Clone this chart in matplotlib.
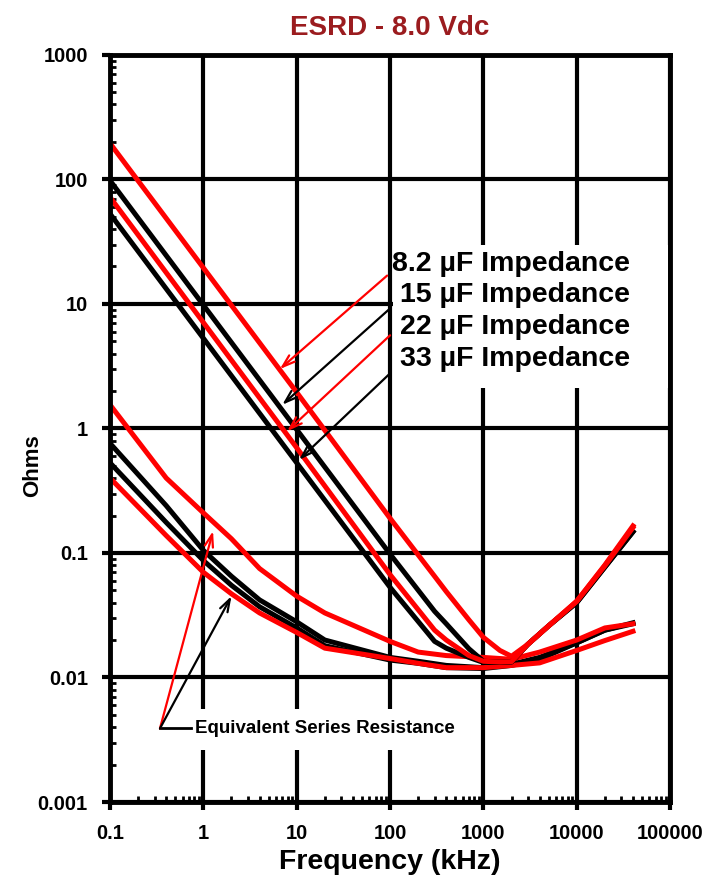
import numpy as np
import matplotlib
matplotlib.use("Agg")
import matplotlib.pyplot as plt
from matplotlib.patches import Rectangle
from matplotlib.ticker import FixedLocator, LogLocator, NullFormatter

plt.rcParams['font.family'] = ['Liberation Sans', 'DejaVu Sans']

# impedance curves (kHz, ohms)
f_imp = [0.1, 1, 10, 100, 300, 400, 700, 1000, 1500, 2000, 3000, 5000, 10000, 20000, 40000]
z_82 = [195, 19.5, 1.95, 0.19, 0.065, 0.049, 0.029, 0.021, 0.0165, 0.0148, 0.0185, 0.026, 0.041, 0.08, 0.165]
z_15 = [98, 9.8, 0.98, 0.098, 0.034, 0.027, 0.017, 0.0135, 0.0133, 0.0134, 0.0185, 0.026, 0.040, 0.077, 0.148]
z_22 = [72, 7.1, 0.70, 0.067, 0.024, 0.020, 0.0150, 0.0135, 0.0133, 0.0134, 0.0185, 0.026, 0.041, 0.079, 0.16]
z_33 = [53, 5.3, 0.53, 0.053, 0.0195, 0.0172, 0.0145, 0.0132, 0.0132, 0.0133, 0.0185, 0.026, 0.040, 0.077, 0.148]

# equivalent series resistance curves
f_esr = [0.1, 0.4, 1, 2, 4, 10, 20, 100, 200, 400, 1000, 2000, 4000, 10000, 20000, 40000]
esr_82 = [1.55, 0.40, 0.21, 0.13, 0.075, 0.045, 0.033, 0.0195, 0.016, 0.015, 0.0145, 0.014, 0.016, 0.020, 0.025, 0.027]
esr_15 = [0.76, 0.24, 0.105, 0.065, 0.042, 0.028, 0.020, 0.0145, 0.0135, 0.0125, 0.012, 0.0128, 0.0145, 0.019, 0.024, 0.0275]
esr_22 = [0.40, 0.138, 0.07, 0.047, 0.033, 0.023, 0.0172, 0.0142, 0.013, 0.012, 0.012, 0.0125, 0.0131, 0.0165, 0.0198, 0.0235]
esr_33 = [0.53, 0.176, 0.087, 0.055, 0.037, 0.025, 0.018, 0.0138, 0.013, 0.012, 0.0118, 0.0125, 0.014, 0.019, 0.024, 0.027]

labels = ['8.2 µF Impedance', '15 µF Impedance', '22 µF Impedance', '33 µF Impedance']

RED = '#FF0000'
BLK = '#000000'

fig = plt.figure(figsize=(7.19, 8.86), dpi=100)
ax = fig.add_axes([0.153, 0.0948, 0.779, 0.8432])
ax.set_xscale('log')
ax.set_yscale('log')
ax.set_xlim(0.1, 100000)
ax.set_ylim(0.001, 1000)

ax.grid(True, which='major', color='black', linewidth=3)
ax.set_axisbelow(True)

lw = 3.6
ax.plot(f_esr, esr_15, color=BLK, lw=lw, zorder=3)
ax.plot(f_esr, esr_33, color=BLK, lw=lw, zorder=3)
ax.plot(f_esr, esr_82, color=RED, lw=lw, zorder=3)
ax.plot(f_esr, esr_22, color=RED, lw=lw, zorder=3)
ax.plot(f_imp, z_15, color=BLK, lw=lw, zorder=3)
ax.plot(f_imp, z_33, color=BLK, lw=lw, zorder=3)
ax.plot(f_imp, z_82, color=RED, lw=lw, zorder=3)
ax.plot(f_imp, z_22, color=RED, lw=lw, zorder=3)

# white boxes behind the annotation text
ax.add_patch(Rectangle((0.506, 0.554), 0.49, 0.192, transform=ax.transAxes,
                       facecolor='white', edgecolor='none', zorder=2))
ax.add_patch(Rectangle((0.134, 0.069), 0.50, 0.055, transform=ax.transAxes,
                       facecolor='white', edgecolor='none', zorder=2))

for spine in ax.spines.values():
    spine.set_linewidth(3.5)
    spine.set_zorder(4)

ax.xaxis.set_major_locator(FixedLocator([0.1, 1, 10, 100, 1000, 10000, 100000]))
ax.yaxis.set_major_locator(FixedLocator([0.001, 0.01, 0.1, 1, 10, 100, 1000]))
ax.set_xticklabels(['0.1', '1', '10', '100', '1000', '10000', '100000'])
ax.set_yticklabels(['0.001', '0.01', '0.1', '1', '10', '100', '1000'])
ax.xaxis.set_minor_locator(LogLocator(base=10, subs=np.arange(2, 10)))
ax.yaxis.set_minor_locator(LogLocator(base=10, subs=np.arange(2, 10)))
ax.xaxis.set_minor_formatter(NullFormatter())
ax.yaxis.set_minor_formatter(NullFormatter())
ax.tick_params(which='major', direction='out', length=6, width=3, pad=10,
               labelsize=14.5)
ax.tick_params(which='minor', direction='in', length=4, width=2)
for t in ax.get_xticklabels() + ax.get_yticklabels():
    t.set_fontweight('bold')

ax.set_xlabel('Frequency (kHz)', fontsize=20.5, fontweight='bold', labelpad=4)
ax.set_ylabel('Ohms', fontsize=16, fontweight='bold')
ax.yaxis.set_label_coords(-0.12, 0.45)
ax.set_title('ESRD - 8.0 Vdc', fontsize=20, fontweight='bold', color='#9B1C1F', pad=14)

# impedance labels and arrows
text_y = [21.1, 11.7, 6.49, 3.59]
for lab, ty in zip(labels, text_y):
    ax.text(37000, ty, lab, ha='right', va='center', fontsize=20.5,
            fontweight='bold', zorder=5)

tails = [(93, 16.9), (100, 9.2), (100, 5.6), (100, 2.77)]
tips = [(6.6, 3.0), (7.0, 1.55), (7.9, 0.95), (10.6, 0.56)]
arrow_cols = [RED, BLK, RED, BLK]
for (tx, ty), (hx, hy), c in zip(tails, tips, arrow_cols):
    ax.annotate('', xy=(hx, hy), xytext=(tx, ty),
                arrowprops=dict(arrowstyle='->,head_length=0.9,head_width=0.3',
                                color=c, lw=1.6, shrinkA=0, shrinkB=0), zorder=5)

# ESR label and arrows
ax.text(0.82, 0.0039, 'Equivalent Series Resistance', ha='left', va='center',
        fontsize=13.5, fontweight='bold', zorder=5)
vx, vy = 0.343, 0.0039
ax.plot([vx, 0.74], [vy, vy], color=BLK, lw=2, zorder=5)
ax.annotate('', xy=(1.27, 0.15), xytext=(vx, vy),
            arrowprops=dict(arrowstyle='->,head_length=0.9,head_width=0.3',
                            color=RED, lw=1.6, shrinkA=0, shrinkB=0), zorder=5)
ax.annotate('', xy=(2.0, 0.045), xytext=(vx, vy),
            arrowprops=dict(arrowstyle='->,head_length=0.9,head_width=0.3',
                            color=BLK, lw=1.6, shrinkA=0, shrinkB=0), zorder=5)

fig.savefig('out.png', dpi=100)
